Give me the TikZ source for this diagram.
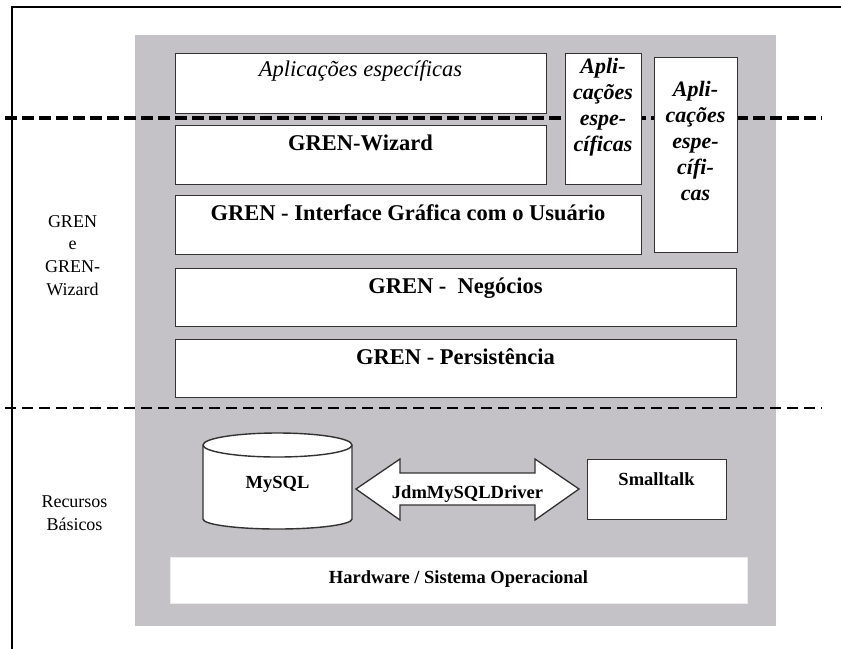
\documentclass[tikz,border=0pt]{standalone}
\usepackage{fontspec}
\setmainfont{Liberation Serif}
\definecolor{panelgray}{RGB}{196,194,198}
\definecolor{edgegray}{RGB}{50,50,50}
\begin{document}
\begin{tikzpicture}[x=1pt,y=-1pt,
  layerbox/.style={draw=edgegray, line width=1.4pt, fill=white, inner sep=0pt, anchor=north west},
  plainbox/.style={draw=white!92!black, line width=0.6pt, fill=white, inner sep=0pt, anchor=north west},
  title/.style={font=\fontsize{22.5}{26}\selectfont\bfseries, anchor=base, inner sep=0pt},
  apptitle/.style={font=\fontsize{22.5}{26}\selectfont\itshape, anchor=base, inner sep=0pt},
  appcol/.style={font=\fontsize{22}{26}\selectfont\bfseries\itshape, anchor=base, inner sep=0pt, align=center},
  small/.style={font=\fontsize{18.5}{22}\selectfont\bfseries, anchor=base, inner sep=0pt},
  side/.style={font=\fontsize{18}{22.7}\selectfont, anchor=base, inner sep=0pt, align=center},
  divider/.style={line width=3.8pt, dash pattern=on 12pt off 5pt},
  divider2/.style={line width=2.8pt, dash pattern=on 11pt off 6pt}]
\useasboundingbox (0,0) rectangle (841,649);
\fill[white] (0,0) rectangle (841,649);

% page frame
\draw[line width=2pt] (12,649) -- (12,7) -- (841,7);

% grey panel holding the layers
\fill[panelgray] (135,35) rectangle (776,626);

% layer dividers
\draw[divider] (5,118) -- (822,118);
\draw[divider2] (5,408) -- (822,408);

% application and framework layers
\node[layerbox, minimum width=371pt, minimum height=60pt] (apps) at (175,53) {};
\node[apptitle] (appst) at (360.5,76) {Aplicações específicas};

\node[layerbox, minimum width=76pt, minimum height=131pt] (appsa) at (565,53) {};
\node[appcol, anchor=north] (appsat) at (603,58) {Apli-\\cações\\espe-\\cíficas};

\node[layerbox, minimum width=83pt, minimum height=195pt] (appsb) at (654,57) {};
\node[appcol, anchor=north] (appsbt) at (695.5,81) {Apli-\\cações\\espe-\\cífi-\\cas};

\node[layerbox, minimum width=371pt, minimum height=59pt] (wiz) at (175,125) {};
\node[title] (wizt) at (360.5,150) {GREN-Wizard};

\node[layerbox, minimum width=466pt, minimum height=59pt] (gui) at (175,195) {};
\node[title] (guit) at (408,220) {GREN - Interface Gráfica com o Usuário};

\node[layerbox, minimum width=561pt, minimum height=58pt] (neg) at (175,268) {};
\node[title] (negt) at (455.5,293) {GREN -\ \ Negócios};

\node[layerbox, minimum width=561pt, minimum height=58pt] (per) at (175,339) {};
\node[title] (pert) at (455.5,364) {GREN - Persistência};

% side captions
\node[side, anchor=north] (capgren) at (72.5,215) {GREN\\e\\GREN-\\Wizard};
\node[side, anchor=north] (caprec) at (74.5,496) {Recursos\\Básicos};

% basic resources: database cylinder
\draw[draw=edgegray, line width=1.4pt, fill=white]
  (203,445) -- (203,519) arc[start angle=180, end angle=0, x radius=74.5, y radius=10]
  -- (352,445) arc[start angle=0, end angle=-180, x radius=74.5, y radius=12] -- cycle;
\draw[draw=edgegray, line width=1.4pt]
  (203,445) arc[start angle=180, end angle=0, x radius=74.5, y radius=12];
\node[small] (mysql) at (277.5,488) {MySQL};

% driver double arrow
\coordinate (tipl) at (356,489);
\coordinate (tipr) at (579,489);
\draw[draw=edgegray, line width=1.3pt, fill=white]
  (tipl) -- (400,459) -- (400,473) -- (535,473) -- (535,459) -- (tipr)
  -- (535,520) -- (535,505) -- (400,505) -- (400,520) -- cycle;
\node[small] (driver) at (467.5,498) {JdmMySQLDriver};

\node[layerbox, minimum width=139pt, minimum height=60pt] (st) at (587,459) {};
\node[small] (stt) at (656.5,485) {Smalltalk};

% hardware base
\node[plainbox, minimum width=577pt, minimum height=46pt] (hw) at (170,557) {};
\node[small] (hwt) at (458.5,583) {Hardware / Sistema Operacional};
\end{tikzpicture}
\end{document}
